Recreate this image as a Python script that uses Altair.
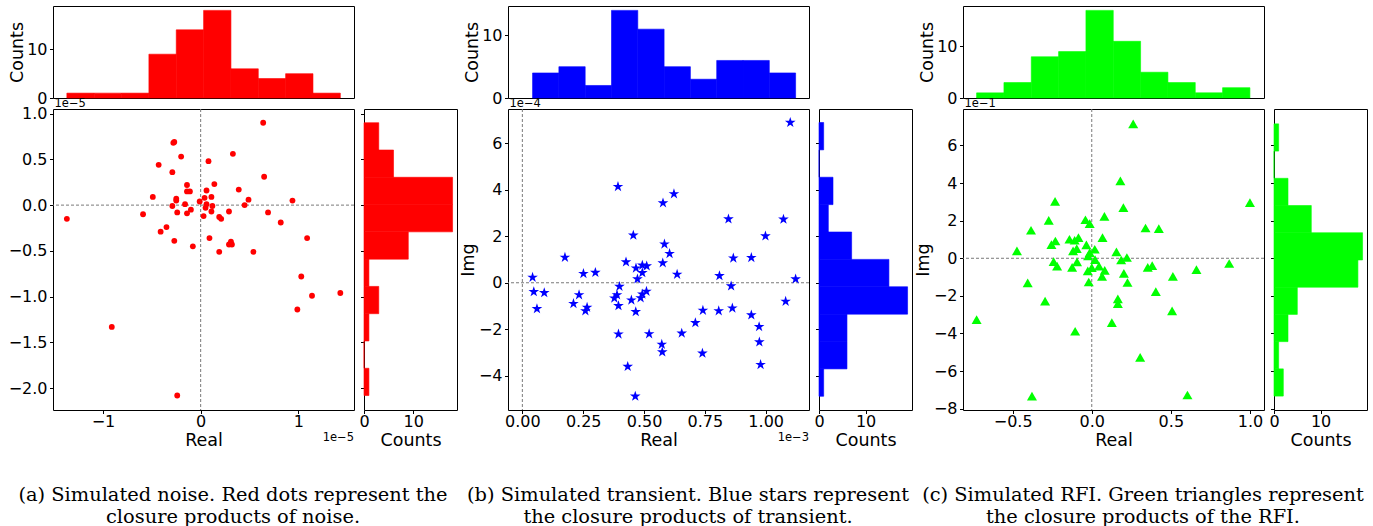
import altair as alt
import numpy as np
import pandas as pd

# ---------------- data ----------------
# Panel (a) simulated noise: Real and Img in units of 1e-5
noise_real = [0.64, -0.27, -0.28, 0.33, -0.20, 0.08, -0.43, -0.29, 0.65, -0.14, 0.14, -0.14, -0.11, 0.06,
              0.39, -0.49, -0.25, -0.25, 0.04, 0.11, -0.01, 0.49, 0.94, -0.29, -0.16, 0.06, 0.12, 0.05,
              0.45, -0.10, -0.24, -0.14, 0.29, 0.11, -0.59, 0.69, 0.03, 0.19, 0.21, -1.37, 0.82, -0.35,
              -0.41, 0.09, 1.09, -0.27, 0.31, 0.29, 0.32, -0.08, 0.19, 0.54, 1.03, 1.14, 1.43, 0.99,
              -0.91, -0.24]
noise_img = [0.90, 0.69, 0.68, 0.56, 0.53, 0.48, 0.44, 0.36, 0.31, 0.22, 0.23, 0.15, 0.15, 0.16,
             0.17, 0.09, 0.07, 0.05, 0.08, 0.09, 0.04, 0.06, 0.05, -0.01, 0.01, 0.01, -0.01, -0.03,
             0.00, -0.05, -0.08, -0.09, -0.07, -0.07, -0.10, -0.08, -0.12, -0.13, -0.15, -0.15, -0.19, -0.24,
             -0.29, -0.36, -0.36, -0.39, -0.40, -0.43, -0.43, -0.45, -0.51, -0.51, -0.78, -0.99, -0.96, -1.14,
             -1.33, -2.08]
noise_real_counts = [1, 1, 1, 9, 14, 18, 6, 4, 5, 1]
noise_img_counts = [1, 0, 1, 3, 1, 9, 18, 18, 6, 3]      # bottom -> top

# Panel (b) simulated transient: Real in units of 1e-3, Img in units of 1e-4
trans_real = [1.101, 0.393, 0.623, 0.578, 0.847, 1.073, 0.456, 0.999, 0.584, 0.605, 0.175, 0.867, 0.941,
              0.426, 0.577, 0.493, 0.511, 0.467, 0.493, 0.300, 0.251, 0.636, 0.042, 0.810, 1.123, 0.473,
              0.399, 0.858, 0.047, 0.090, 0.510, 0.493, 0.233, 0.389, 0.378, 0.486, 0.448, 0.210, 1.082,
              0.395, 0.266, 0.060, 0.259, 0.466, 0.742, 0.807, 0.863, 0.941, 0.711, 0.973, 0.395, 0.521,
              0.655, 0.573, 0.575, 0.740, 0.974, 0.979, 0.433, 0.464]
trans_img = [6.89, 4.13, 3.82, 3.43, 2.74, 2.73, 2.04, 2.01, 1.66, 1.25, 1.09, 1.06, 1.08,
             0.89, 0.85, 0.75, 0.72, 0.63, 0.43, 0.44, 0.39, 0.36, 0.23, 0.30, 0.16, 0.16,
             -0.16, -0.14, -0.39, -0.43, -0.37, -0.49, -0.52, -0.52, -0.66, -0.65, -0.75, -0.90, -0.80,
             -0.99, -1.06, -1.12, -1.21, -1.25, -1.19, -1.21, -1.09, -1.39, -1.72, -1.89, -2.21, -2.20,
             -2.17, -2.65, -2.98, -3.03, -2.55, -3.52, -3.60, -4.88]
trans_real_counts = [4, 5, 2, 14, 11, 5, 3, 6, 6, 4]
trans_img_counts = [1, 6, 6, 19, 15, 7, 2, 3, 0, 1]      # bottom -> top

# Panel (c) simulated RFI: Real as is, Img in units of 1e-1
rfi_real = [0.262, 0.181, -0.232, 1.0, 0.200, 0.080, -0.272, -0.040, -0.013, 0.340, 0.424, -0.384,
            0.068, -0.084, -0.141, -0.108, -0.230, -0.255, -0.034, 0.019, -0.095, -0.473, -0.118, 0.156,
            -0.013, 0.222, -0.023, 0.021, 0.186, -0.241, -0.093, 0.869, -0.219, 0.046, 0.382, 0.354,
            -0.124, 0.0, -0.025, 0.662, 0.082, 0.203, 0.513, 0.065, -0.019, 0.226, -0.405, 0.405,
            0.165, 0.165, -0.295, 0.508, -0.728, 0.127, -0.105, 0.306, 0.605, -0.378]
rfi_img = [7.15, 4.12, 3.03, 2.96, 2.69, 2.23, 2.02, 2.05, 1.84, 1.61, 1.58, 1.49,
           1.10, 1.10, 1.01, 0.96, 0.92, 0.73, 0.71, 0.48, 0.51, 0.39, 0.39, 0.34,
           0.30, 0.04, 0.12, -0.07, -0.09, -0.18, -0.19, -0.28, -0.42, -0.42, -0.39, -0.48,
           -0.48, -0.50, -0.67, -0.60, -0.64, -0.80, -0.96, -0.96, -1.26, -1.29, -1.31, -1.77,
           -2.16, -2.41, -2.28, -2.80, -3.26, -3.42, -3.88, -5.27, -7.27, -7.33]
rfi_real_counts = [1, 3, 8, 9, 17, 11, 5, 3, 1, 2]
rfi_img_counts = [2, 1, 3, 5, 18, 19, 8, 3, 0, 1]        # bottom -> top

# axis limits and ticks
a_xdom, a_ydom = [-1.512, 1.570], [-2.238, 1.05]
b_xdom, b_ydom = [-0.059, 1.178], [-5.47, 7.47]
c_xdom, c_ydom = [-0.814, 1.089], [-8.07, 7.94]
a_xticks, a_yticks = [-1, 0, 1], [-2.0, -1.5, -1.0, -0.5, 0.0, 0.5, 1.0]
b_xticks, b_yticks = [0.0, 0.25, 0.5, 0.75, 1.0], [-4, -2, 0, 2, 4, 6]
c_xticks, c_yticks = [-0.5, 0.0, 0.5, 1.0], [-8, -6, -4, -2, 0, 2, 4, 6]
count_ticks = [0, 10]

captions = [
    ["(a) Simulated noise. Red dots represent the", "closure products of noise."],
    ["(b) Simulated transient. Blue stars represent", "the closure products of transient."],
    ["(c) Simulated RFI. Green triangles represent", "the closure products of the RFI."],
]

STAR = ("M0,-1L0.2245,-0.309L0.951,-0.309L0.363,0.118L0.588,0.809L0,0.382"
        "L-0.588,0.809L-0.363,0.118L-0.951,-0.309L-0.2245,-0.309Z")

W, H = 301, 301       # scatter plot area
HT = 92               # top histogram height
WR = 93               # right histogram width
GAP = 31              # spacer column between panels
LABEL_FONT = "DejaVu Sans"


def minus_label(fmt):
    # matplotlib-style labels with a true minus sign (U+2212)
    return ("(datum.value < 0 ? '\u2212' : '') + format(abs(datum.value), '%s')" % fmt)


def one():
    return pd.DataFrame({"k": [0]})


def hist_df(values, counts):
    edges = np.linspace(min(values), max(values), len(counts) + 1)
    return pd.DataFrame({"lo": edges[:-1], "hi": edges[1:], "c": counts, "z": [0] * len(counts)})


def panel(real, img, rc, ic, xdom, ydom, xt, yt, xf, yf, color, shape, msize,
          ytitle, yoff, xoff, cap):
    xscale = alt.Scale(domain=xdom, nice=False, zero=False)
    yscale = alt.Scale(domain=ydom, nice=False, zero=False)
    yaxis_kw = dict(values=yt, labelExpr=minus_label(yf))
    yaxis_kw["title"] = ytitle if ytitle else None
    X = alt.X("x:Q", scale=xscale,
              axis=alt.Axis(values=xt, labelExpr=minus_label(xf), title="Real"))
    Y = alt.Y("y:Q", scale=yscale, axis=alt.Axis(**yaxis_kw))

    pts = pd.DataFrame({"x": real, "y": img})
    zero = pd.DataFrame({"x": [0.0], "y": [0.0]})
    rule_style = dict(color="#7a7a7a", strokeDash=[3, 2], strokeWidth=1)
    layers = [
        alt.Chart(zero).mark_rule(**rule_style).encode(x=X),
        alt.Chart(zero).mark_rule(**rule_style).encode(y=Y),
        alt.Chart(pts).mark_point(shape=shape, filled=True, size=msize, color=color,
                                  opacity=1, strokeWidth=0).encode(x=X, y=Y),
    ]
    if yoff:
        layers.append(alt.Chart(one()).mark_text(text=yoff, align="left", baseline="alphabetic",
                                                 fontSize=11.5, font=LABEL_FONT, color="black")
                      .encode(x=alt.value(1.5), y=alt.value(-2)))
    if xoff:
        layers.append(alt.Chart(one()).mark_text(text=xoff, align="right", baseline="alphabetic",
                                                 fontSize=11.5, font=LABEL_FONT, color="black")
                      .encode(x=alt.value(W), y=alt.value(332)))
    layers.append(alt.Chart(one()).mark_text(text=cap, align="center", baseline="alphabetic",
                                             fontSize=19.4, font="DejaVu Serif", lineHeight=21.5,
                                             color="black")
                  .encode(x=alt.value(180), y=alt.value(392)))
    scatter = alt.layer(*layers).properties(width=W, height=H)

    tdf = hist_df(real, rc)
    top = alt.Chart(tdf).mark_rect(color=color, stroke=color, strokeWidth=0.6).encode(
        x=alt.X("lo:Q", scale=xscale, axis=None),
        x2="hi:Q",
        y=alt.Y("c:Q", scale=alt.Scale(domain=[0, max(rc) * 1.05], nice=False),
                axis=alt.Axis(values=count_ticks, format="d", title="Counts", titlePadding=0)),
        y2="z:Q",
    ).properties(width=W, height=HT)

    rdf = hist_df(img, ic)
    right = alt.Chart(rdf).mark_rect(color=color, stroke=color, strokeWidth=0.6).encode(
        y=alt.Y("lo:Q", scale=yscale, axis=alt.Axis(values=yt, labels=False, title=None)),
        y2="hi:Q",
        x=alt.X("c:Q", scale=alt.Scale(domain=[0, max(ic) * 1.05], nice=False),
                axis=alt.Axis(values=count_ticks, format="d", title="Counts")),
        x2="z:Q",
    ).properties(width=WR, height=H)
    return top, scatter, right


def blank(w, h):
    return alt.Chart(one()).mark_point(opacity=0).encode(
        x=alt.X("k:Q", axis=None), y=alt.Y("k:Q", axis=None)
    ).properties(width=w, height=h, view=alt.ViewBackground(strokeOpacity=0))


tA, sA, rA = panel(noise_real, noise_img, noise_real_counts, noise_img_counts, a_xdom, a_ydom,
                   a_xticks, a_yticks, "d", ".1f", "#ff0000", "circle", 34, None,
                   "1e\u22125", "1e\u22125", captions[0])
tB, sB, rB = panel(trans_real, trans_img, trans_real_counts, trans_img_counts, b_xdom, b_ydom,
                   b_xticks, b_yticks, ".2f", "d", "#0000ff", STAR, 125, "Img",
                   "1e\u22124", "1e\u22123", captions[1])
tC, sC, rC = panel(rfi_real, rfi_img, rfi_real_counts, rfi_img_counts, c_xdom, c_ydom,
                   c_xticks, c_yticks, ".1f", "d", "#00ff00", "triangle-up", 100, "Img",
                   "1e\u22121", None, captions[2])

cells = [
    tA, blank(WR, HT), blank(GAP, HT), tB, blank(WR, HT), blank(GAP, HT), tC, blank(WR, HT),
    sA, rA, blank(GAP, H), sB, rB, blank(GAP, H), sC, rC,
]

chart = alt.concat(
    *cells, columns=8, spacing={"row": 11, "column": 10}, bounds="flush", align="each"
).properties(
    padding={"left": 7, "top": 5, "right": 0, "bottom": 0}
).configure(
    font=LABEL_FONT
).configure_view(
    stroke="black", strokeWidth=1
).configure_axis(
    domain=False, grid=False, tickSize=3.5, tickColor="black", tickWidth=1,
    labelFont=LABEL_FONT, labelFontSize=16, labelColor="black", labelFlush=False,
    labelOverlap=False,
    titleFont=LABEL_FONT, titleFontSize=17.5, titleFontWeight="normal", titleColor="black",
).configure_axisX(
    labelPadding=0, titlePadding=2
).configure_axisY(
    labelPadding=2.5, titlePadding=1
)

chart.save("out.html", embed_options={"renderer": "svg", "actions": False})
